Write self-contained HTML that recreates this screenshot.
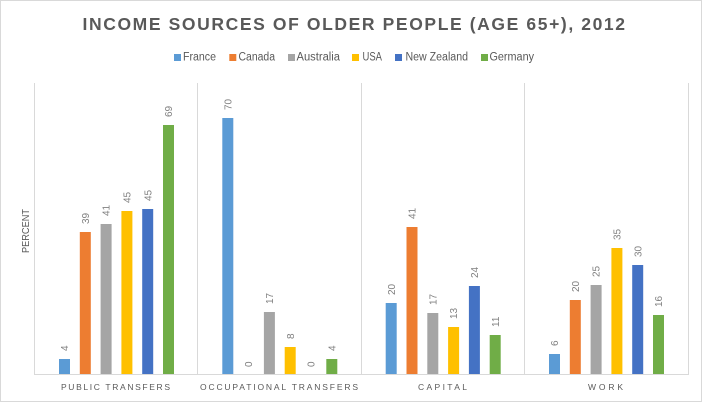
<!DOCTYPE html>
<html>
<head>
<meta charset="utf-8">
<style>
  html, body { margin: 0; padding: 0; background: #ffffff; }
  svg { display: block; }
  text { font-family: "Liberation Sans", Arial, sans-serif; }
</style>
</head>
<body>
<svg width="703" height="403" viewBox="0 0 703 403" xmlns="http://www.w3.org/2000/svg">
  <rect x="0" y="0" width="703" height="403" fill="#ffffff"/>
  <rect x="0.5" y="0.5" width="701" height="401" fill="none" stroke="#d9d9d9" stroke-width="1"/>

  <!-- Title -->
  <text x="82.5" y="30" font-size="17.5" font-weight="bold" fill="#595959" textLength="542.5" lengthAdjust="spacing">INCOME SOURCES OF OLDER PEOPLE (AGE 65+), 2012</text>

  <!-- Legend -->
  <g font-size="11.5" fill="#595959">
    <rect x="174" y="54" width="7" height="7" fill="#5B9BD5"/>
    <text x="183" y="60.7" textLength="33" lengthAdjust="spacingAndGlyphs">France</text>
    <rect x="229.3" y="54" width="7" height="7" fill="#ED7D31"/>
    <text x="238.5" y="60.7" textLength="36.5" lengthAdjust="spacingAndGlyphs">Canada</text>
    <rect x="288" y="54" width="7" height="7" fill="#A5A5A5"/>
    <text x="296.5" y="60.7" textLength="43.5" lengthAdjust="spacingAndGlyphs">Australia</text>
    <rect x="352" y="54" width="7" height="7" fill="#FFC000"/>
    <text x="362.5" y="60.7" textLength="19.5" lengthAdjust="spacingAndGlyphs">USA</text>
    <rect x="395" y="54" width="7" height="7" fill="#4472C4"/>
    <text x="405.5" y="60.7" textLength="62.5" lengthAdjust="spacingAndGlyphs">New Zealand</text>
    <rect x="481" y="54" width="7" height="7" fill="#70AD47"/>
    <text x="489.5" y="60.7" textLength="44.5" lengthAdjust="spacingAndGlyphs">Germany</text>
  </g>

  <!-- Grid / dividers -->
  <g stroke="#d9d9d9" stroke-width="1">
    <line x1="34.5" y1="83" x2="34.5" y2="374"/>
    <line x1="197.5" y1="83" x2="197.5" y2="374"/>
    <line x1="361.5" y1="83" x2="361.5" y2="374"/>
    <line x1="524.5" y1="83" x2="524.5" y2="374"/>
    <line x1="688.5" y1="83" x2="688.5" y2="374"/>
    <line x1="34" y1="374.5" x2="689" y2="374.5"/>
  </g>

  <!-- Y axis title -->
  <text transform="translate(29,231) rotate(-90)" text-anchor="middle" font-size="10" fill="#595959" textLength="44" lengthAdjust="spacingAndGlyphs">PERCENT</text>

  <!-- Bars -->
  <!-- Group 1: Public transfers -->
  <rect x="59" y="359" width="11" height="15" fill="#5B9BD5"/>
  <rect x="79.8" y="232" width="11" height="142" fill="#ED7D31"/>
  <rect x="100.6" y="224" width="11" height="150" fill="#A5A5A5"/>
  <rect x="121.4" y="211" width="11" height="163" fill="#FFC000"/>
  <rect x="142.2" y="209" width="11" height="165" fill="#4472C4"/>
  <rect x="163" y="125" width="11" height="249" fill="#70AD47"/>
  <!-- Group 2: Occupational transfers -->
  <rect x="222.3" y="118" width="11" height="256" fill="#5B9BD5"/>
  <rect x="263.9" y="312" width="11" height="62" fill="#A5A5A5"/>
  <rect x="284.7" y="347" width="11" height="27" fill="#FFC000"/>
  <rect x="326.3" y="359" width="11" height="15" fill="#70AD47"/>
  <!-- Group 3: Capital -->
  <rect x="385.7" y="303" width="11" height="71" fill="#5B9BD5"/>
  <rect x="406.5" y="227" width="11" height="147" fill="#ED7D31"/>
  <rect x="427.3" y="313" width="11" height="61" fill="#A5A5A5"/>
  <rect x="448.1" y="327" width="11" height="47" fill="#FFC000"/>
  <rect x="468.9" y="286" width="11" height="88" fill="#4472C4"/>
  <rect x="489.7" y="335" width="11" height="39" fill="#70AD47"/>
  <!-- Group 4: Work -->
  <rect x="549" y="354" width="11" height="20" fill="#5B9BD5"/>
  <rect x="569.8" y="300" width="11" height="74" fill="#ED7D31"/>
  <rect x="590.6" y="285" width="11" height="89" fill="#A5A5A5"/>
  <rect x="611.4" y="248" width="11" height="126" fill="#FFC000"/>
  <rect x="632.2" y="265" width="11" height="109" fill="#4472C4"/>
  <rect x="653" y="315" width="11" height="59" fill="#70AD47"/>

  <!-- Data labels -->
  <g font-size="10" fill="#7f7f7f">
    <text transform="translate(68.1,351) rotate(-90)">4</text>
    <text transform="translate(88.9,224) rotate(-90)">39</text>
    <text transform="translate(109.7,216) rotate(-90)">41</text>
    <text transform="translate(130.5,203) rotate(-90)">45</text>
    <text transform="translate(151.3,201) rotate(-90)">45</text>
    <text transform="translate(172.1,117) rotate(-90)">69</text>

    <text transform="translate(231.4,110) rotate(-90)">70</text>
    <text transform="translate(252.2,367) rotate(-90)">0</text>
    <text transform="translate(273,304) rotate(-90)">17</text>
    <text transform="translate(293.8,339) rotate(-90)">8</text>
    <text transform="translate(314.6,367) rotate(-90)">0</text>
    <text transform="translate(335.4,351) rotate(-90)">4</text>

    <text transform="translate(394.8,295) rotate(-90)">20</text>
    <text transform="translate(415.6,219) rotate(-90)">41</text>
    <text transform="translate(436.4,305) rotate(-90)">17</text>
    <text transform="translate(457.2,319) rotate(-90)">13</text>
    <text transform="translate(478,278) rotate(-90)">24</text>
    <text transform="translate(498.8,327) rotate(-90)">11</text>

    <text transform="translate(558.1,346) rotate(-90)">6</text>
    <text transform="translate(578.9,292) rotate(-90)">20</text>
    <text transform="translate(599.7,277) rotate(-90)">25</text>
    <text transform="translate(620.5,240) rotate(-90)">35</text>
    <text transform="translate(641.3,257) rotate(-90)">30</text>
    <text transform="translate(662.1,307) rotate(-90)">16</text>
  </g>

  <!-- Category labels -->
  <g font-size="8.5" fill="#595959">
    <text x="61" y="390" textLength="109" lengthAdjust="spacing">PUBLIC TRANSFERS</text>
    <text x="200" y="390" textLength="158" lengthAdjust="spacing">OCCUPATIONAL TRANSFERS</text>
    <text x="418" y="390" textLength="49" lengthAdjust="spacing">CAPITAL</text>
    <text x="588" y="390" textLength="35" lengthAdjust="spacing">WORK</text>
  </g>
</svg>
</body>
</html>
